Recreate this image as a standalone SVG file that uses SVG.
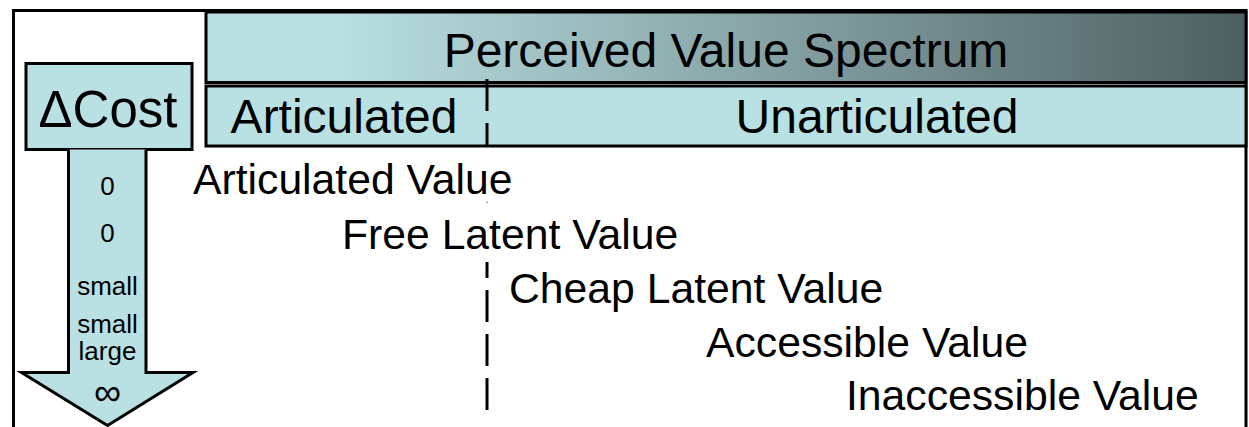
<svg xmlns="http://www.w3.org/2000/svg" width="1249" height="427" viewBox="0 0 1249 427">
  <defs>
    <linearGradient id="spectrumFill" x1="0" y1="0" x2="1" y2="0">
      <stop offset="0" stop-color="#B9E0E3"/>
      <stop offset="0.12" stop-color="#B9E0E3"/>
      <stop offset="1" stop-color="#4E5F61"/>
    </linearGradient>
  </defs>
  <style>
    .box { fill: #B9E0E3; stroke: #000; stroke-width: 3; }
    .frame { fill: none; stroke: #000; stroke-width: 3; }
    .head { font-family: "Liberation Sans", Arial, sans-serif; font-size: 48px; fill: #000; }
    .val { font-family: "Liberation Sans", Arial, sans-serif; font-size: 42.7px; fill: #000; }
    .cost { font-family: "Liberation Sans", Arial, sans-serif; font-size: 26px; fill: #000; text-anchor: middle; }
    .dash { stroke: #000; stroke-width: 3; }
  </style>

  <rect width="1249" height="427" fill="#fff"/>

  <!-- outer frame, open at the bottom -->
  <g id="frame">
    <path class="frame" d="M13.5,427 V10.5 H1246 V427"/>
  </g>

  <!-- spectrum header -->
  <g id="spectrum-header">
    <rect x="206" y="12" width="1040" height="70.5" fill="url(#spectrumFill)" stroke="#000" stroke-width="3"/>
    <text class="head" x="726" y="67" text-anchor="middle">Perceived Value Spectrum</text>
  </g>

  <!-- articulated / unarticulated band -->
  <g id="category-band">
    <rect class="box" x="206" y="86" width="1040" height="60"/>
    <text class="head" x="344" y="133" text-anchor="middle">Articulated</text>
    <text class="head" x="877" y="133" text-anchor="middle">Unarticulated</text>
  </g>

  <!-- cost axis -->
  <g id="cost-box">
    <rect class="box" x="26" y="63.5" width="166" height="86"/>
    <text class="head" x="108" y="127" text-anchor="middle" style="font-size:51px">ΔCost</text>
  </g>

  <g id="cost-arrow">
    <path class="box" d="M68.5,149.5 V372.5 H21.5 L107.5,425.5 L193,372.5 H146 V149.5"/>
    <text class="cost" x="107.5" y="195">0</text>
    <text class="cost" x="107.5" y="242">0</text>
    <text class="cost" x="107.5" y="295">small</text>
    <text class="cost" x="107.5" y="333">small</text>
    <text class="cost" x="107.5" y="360">large</text>
    <text class="cost" x="107.5" y="405" style="font-size:38px">∞</text>
  </g>

  <!-- articulated / unarticulated boundary -->
  <g id="dividers">
    <line class="dash" x1="487" y1="79" x2="487" y2="111"/>
    <line class="dash" x1="487" y1="123" x2="487" y2="147"/>
    <line x1="487" y1="201.5" x2="487" y2="203" stroke="#aaa" stroke-width="2"/>
    <line class="dash" x1="487" y1="262" x2="487" y2="278"/>
    <line class="dash" x1="487" y1="290" x2="487" y2="322"/>
    <line class="dash" x1="487" y1="334" x2="487" y2="366"/>
    <line class="dash" x1="487" y1="378" x2="487" y2="410"/>
  </g>

  <!-- value categories -->
  <g id="articulated-value"><text class="val" x="193" y="194">Articulated Value</text></g>
  <g id="free-latent-value"><text class="val" x="342" y="249">Free Latent Value</text></g>
  <g id="cheap-latent-value"><text class="val" x="509" y="303">Cheap Latent Value</text></g>
  <g id="accessible-value"><text class="val" x="706" y="357">Accessible Value</text></g>
  <g id="inaccessible-value"><text class="val" x="846" y="410">Inaccessible Value</text></g>
</svg>
